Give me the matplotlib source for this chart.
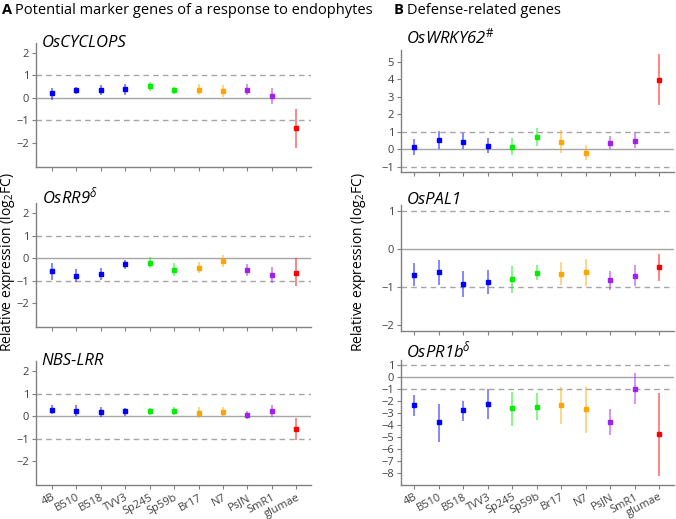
import numpy
import matplotlib
matplotlib.use( "Agg" )
from matplotlib import pyplot
from matplotlib import transforms

strains = [ "4B", "B510", "B518", "TVV3", "Sp245", "Sp59b", "Br17", "N7", "PsJN", "SmR1", "glumae" ]
strain_colors = [ "#0000ff", "#0000ff", "#0000ff", "#0000ff", "#00ee00", "#00ee00",
                  "#ffa500", "#ffa500", "#a020f0", "#a020f0", "#ff0000" ]

# mean log2FC, upper end of bar, lower end of bar
cyclops_mean = [ 0.22, 0.34, 0.36, 0.39, 0.52, 0.34, 0.36, 0.31, 0.34, 0.07, -1.34 ]
cyclops_hi   = [ 0.45, 0.49, 0.57, 0.63, 0.72, 0.49, 0.60, 0.57, 0.61, 0.42, -0.48 ]
cyclops_lo   = [ -0.07, 0.19, 0.15, 0.15, 0.33, 0.18, 0.15, 0.04, 0.12, -0.25, -2.24 ]

rr9_mean = [ -0.57, -0.79, -0.71, -0.26, -0.19, -0.51, -0.41, -0.12, -0.51, -0.75, -0.65 ]
rr9_hi   = [ -0.22, -0.47, -0.44, -0.07, 0.04, -0.22, -0.16, 0.15, -0.25, -0.37, 0.00 ]
rr9_lo   = [ -0.96, -1.06, -0.96, -0.47, -0.44, -0.78, -0.66, -0.37, -0.78, -1.10, -1.22 ]

nbs_mean = [ 0.28, 0.24, 0.19, 0.22, 0.22, 0.22, 0.15, 0.19, 0.04, 0.22, -0.54 ]
nbs_hi   = [ 0.49, 0.49, 0.41, 0.38, 0.35, 0.41, 0.41, 0.41, 0.22, 0.49, -0.09 ]
nbs_lo   = [ 0.09, 0.03, -0.03, 0.03, 0.07, 0.06, -0.07, 0.00, -0.12, -0.03, -1.03 ]

wrky_mean = [ 0.13, 0.53, 0.44, 0.21, 0.15, 0.71, 0.44, -0.19, 0.36, 0.50, 3.97 ]
wrky_hi   = [ 0.59, 1.07, 0.93, 0.67, 0.63, 1.24, 1.09, 0.23, 0.78, 0.97, 5.42 ]
wrky_lo   = [ -0.30, 0.00, 0.00, -0.21, -0.30, 0.17, -0.21, -0.59, 0.00, 0.10, 2.52 ]

pal_mean = [ -0.68, -0.61, -0.93, -0.86, -0.80, -0.62, -0.65, -0.61, -0.82, -0.71, -0.48 ]
pal_hi   = [ -0.37, -0.28, -0.59, -0.54, -0.44, -0.43, -0.35, -0.25, -0.59, -0.42, -0.13 ]
pal_lo   = [ -0.98, -0.94, -1.27, -1.18, -1.16, -0.82, -0.96, -0.98, -1.07, -0.98, -0.85 ]

pr1b_mean = [ -2.32, -3.78, -2.77, -2.27, -2.60, -2.46, -2.32, -2.69, -3.75, -1.00, -4.78 ]
pr1b_hi   = [ -1.48, -2.24, -1.99, -1.00, -1.20, -1.29, -0.78, -0.78, -2.66, 0.39, -1.34 ]
pr1b_lo   = [ -3.24, -5.40, -3.64, -3.52, -4.06, -3.58, -3.92, -4.64, -4.84, -2.24, -8.28 ]


def panel( fig, rect, title, titley, mean, hi, lo, ylim, yticks, xlim, showlabels ):
    ax = fig.add_axes( rect )
    x = numpy.arange( 1, len( strains ) + 1 )
    mean = numpy.array( mean )
    errlo = mean - numpy.array( lo )
    errhi = numpy.array( hi ) - mean
    ax.axhline( 0, color='#a6a6a6', lw=1.0, zorder=0 )
    for lvl in ( 1, -1 ):
        ax.axhline( lvl, color='#a6a6a6', lw=1.0, linestyle=(0, (4, 3)), zorder=0 )
    for i in range( len( strains ) ):
        ax.errorbar( x[i], mean[i], yerr=[ [ errlo[i] ], [ errhi[i] ] ], color=strain_colors[i],
                     ecolor=strain_colors[i], elinewidth=1.1, capsize=0,
                     marker='s', markersize=2.8, linestyle='none' )
    for coll in ax.collections:
        coll.set_alpha( 0.6 )
    ax.set_xlim( *xlim )
    ax.set_ylim( *ylim )
    ax.set_yticks( yticks )
    ax.set_xticks( x )
    if showlabels:
        ax.set_xticklabels( strains, rotation=28, ha='right', va='top', rotation_mode='anchor',
                            fontsize=8.5, color='#404040' )
        shift = transforms.ScaledTranslation( 7 / 100, 0, fig.dpi_scale_trans )
        for lab in ax.get_xticklabels():
            lab.set_transform( lab.get_transform() + shift )
    else:
        ax.set_xticklabels( [] )
    for side in ( 'top', 'right' ):
        ax.spines[side].set_visible( False )
    for side in ( 'left', 'bottom' ):
        ax.spines[side].set_color( '#808080' )
        ax.spines[side].set_linewidth( 1.0 )
    ax.tick_params( axis='both', colors='#808080', length=3, width=0.8, labelsize=8,
                    labelcolor='#404040', pad=2 )
    ax.text( 0.02, titley, title, transform=ax.transAxes, fontsize=12, style='italic',
             va='center', ha='left' )
    return ax


def main():
    pyplot.rcParams['font.family'] = [ 'Open Sans', 'DejaVu Sans' ]
    pyplot.rcParams['mathtext.fontset'] = 'custom'
    pyplot.rcParams['mathtext.rm'] = 'Open Sans'
    pyplot.rcParams['mathtext.it'] = 'Open Sans:italic'

    fig = pyplot.figure( figsize=(6.76, 5.19), dpi=100 )

    lx, lw = 36 / 676, 275 / 676
    rx, rw = 401 / 676, 273 / 676
    lxlim = ( 0.35, 11.6 )
    rxlim = ( 0.47, 11.6 )
    lylim = ( -3.05, 2.45 )
    lticks = [ -2, -1, 0, 1, 2 ]

    panel( fig, [ lx, 1 - 166.6 / 519, lw, 123.8 / 519 ], "OsCYCLOPS", 1.0,
           cyclops_mean, cyclops_hi, cyclops_lo, lylim, lticks, lxlim, False )
    panel( fig, [ lx, 1 - 327 / 519, lw, 123.8 / 519 ], r"OsRR9$^{\delta}$", 1.05,
           rr9_mean, rr9_hi, rr9_lo, lylim, lticks, lxlim, False )
    panel( fig, [ lx, 1 - 485 / 519, lw, 123.8 / 519 ], "NBS-LRR", 1.0,
           nbs_mean, nbs_hi, nbs_lo, lylim, lticks, lxlim, True )

    panel( fig, [ rx, 1 - 172 / 519, rw, 122.5 / 519 ], r"OsWRKY62$^{\#}$", 1.1,
           wrky_mean, wrky_hi, wrky_lo, ( -1.3, 5.7 ), [ -1, 0, 1, 2, 3, 4, 5 ], rxlim, False )
    panel( fig, [ rx, 1 - 330.7 / 519, rw, 125.4 / 519 ], "OsPAL1", 1.04,
           pal_mean, pal_hi, pal_lo, ( -2.15, 1.15 ), [ -2, -1, 0, 1 ], rxlim, False )
    panel( fig, [ rx, 1 - 484.6 / 519, rw, 124.6 / 519 ], r"OsPR1b$^{\delta}$", 1.065,
           pr1b_mean, pr1b_hi, pr1b_lo, ( -9, 1.45 ), list( range( -8, 2 ) ), rxlim, True )

    ylabel = r"Relative expression (log$_{2}$FC)"
    fig.text( 8 / 676, 1 - 262 / 519, ylabel, rotation=90, ha='center', va='center', fontsize=10 )
    fig.text( 359 / 676, 1 - 262 / 519, ylabel, rotation=90, ha='center', va='center', fontsize=10 )

    fig.text( 2 / 676, 1 - 10 / 519, "A", fontweight='bold', fontsize=10.5, va='center', ha='left' )
    fig.text( 15 / 676, 1 - 10 / 519, "Potential marker genes of a response to endophytes",
              fontsize=10.5, va='center', ha='left' )
    fig.text( 394 / 676, 1 - 10 / 519, "B", fontweight='bold', fontsize=10.5, va='center', ha='left' )
    fig.text( 407 / 676, 1 - 10 / 519, "Defense-related genes", fontsize=10.5, va='center', ha='left' )

    fig.savefig( "out.png", dpi=100 )
    pyplot.close( fig )


if __name__ == "__main__":
    main()
